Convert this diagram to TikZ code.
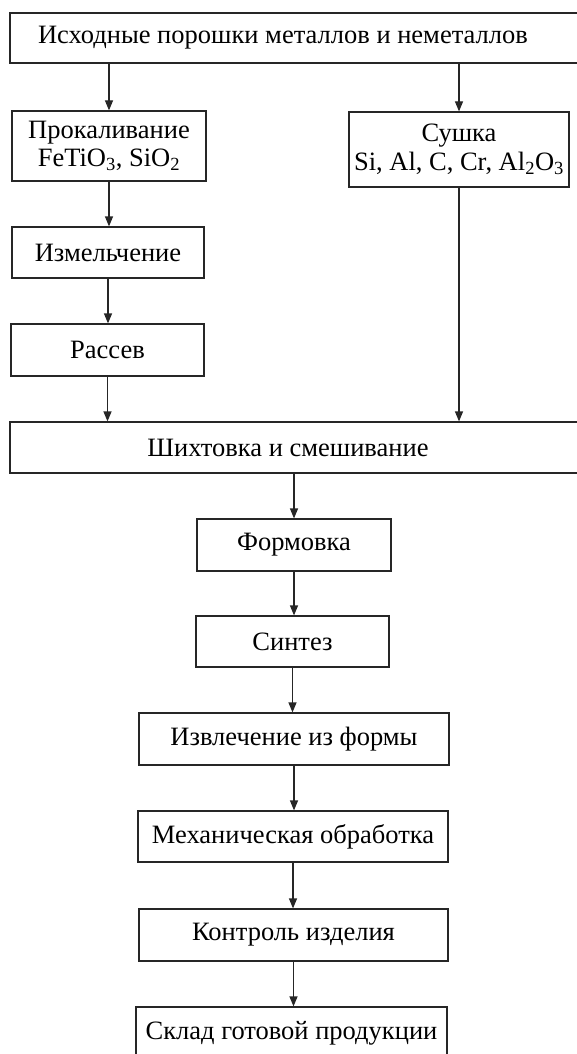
\documentclass[tikz,border=0pt]{standalone}
\usepackage{fontspec}
\setmainfont{Liberation Serif}
\usetikzlibrary{arrows.meta}
\begin{document}
\begin{tikzpicture}[x=1pt,y=-1pt,
  box/.style={draw=black!85, line width=1.2pt, inner sep=0pt, align=center,
    font=\fontsize{26.5}{28.5}\selectfont},
  arr/.style={draw=black!85, line width=1.2pt, -{Triangle[length=10pt,width=8pt]}}]
\useasboundingbox (0,0) rectangle (576,1054);
% boxes: center x, center y, width, height
\node[box, minimum width=580pt, minimum height=50pt] (top) at (300,38)
  {\hspace*{-34pt}Исходные порошки металлов и неметаллов};
\node[box, minimum width=194pt, minimum height=70pt] (prok) at (109,146)
  {Прокаливание\\FeTiO\textsubscript{3}, SiO\textsubscript{2}};
\node[box, minimum width=220pt, minimum height=75pt] (sush) at (459,149.5)
  {Сушка\\Si, Al, C, Cr, Al\textsubscript{2}O\textsubscript{3}};
\node[box, minimum width=192pt, minimum height=51pt] (izm) at (108,252.5) {Измельчение};
\node[box, minimum width=193pt, minimum height=52pt] (ras) at (107.5,350) {Рассев};
\node[box, minimum width=580pt, minimum height=51pt] (mix) at (300,447.5)
  {\hspace*{-24pt}Шихтовка и смешивание};
\node[box, minimum width=194pt, minimum height=52pt] (form) at (294,545) {Формовка};
\node[box, minimum width=193pt, minimum height=51pt] (sint) at (292.5,641.5) {Синтез};
\node[box, minimum width=310pt, minimum height=52pt] (izv) at (294,739) {Извлечение из формы};
\node[box, minimum width=310pt, minimum height=51pt] (mech) at (293,836.5) {Механическая обработка};
\node[box, minimum width=309pt, minimum height=52pt] (ctrl) at (293.5,935) {Контроль изделия};
\node[box, minimum width=311pt, minimum height=52pt] (sklad) at (291.5,1033) {Склад готовой продукции};
% connectors
\draw[arr] (top.south -| prok.north) -- (prok.north);
\draw[arr] (top.south -| sush.north) -- (sush.north);
\draw[arr] (prok.south) -- (prok.south |- izm.north);
\draw[arr] (izm.south) -- (izm.south |- ras.north);
\draw[arr] (ras.south) -- (ras.south |- mix.north);
\draw[arr] (sush.south) -- (sush.south |- mix.north);
\draw[arr] (mix.south -| form.north) -- (form.north);
\draw[arr] (form.south) -- (form.south |- sint.north);
\draw[arr] (sint.south) -- (sint.south |- izv.north);
\draw[arr] (izv.south) -- (izv.south |- mech.north);
\draw[arr] (mech.south) -- (mech.south |- ctrl.north);
\draw[arr] (ctrl.south) -- (ctrl.south |- sklad.north);
\end{tikzpicture}
\end{document}
